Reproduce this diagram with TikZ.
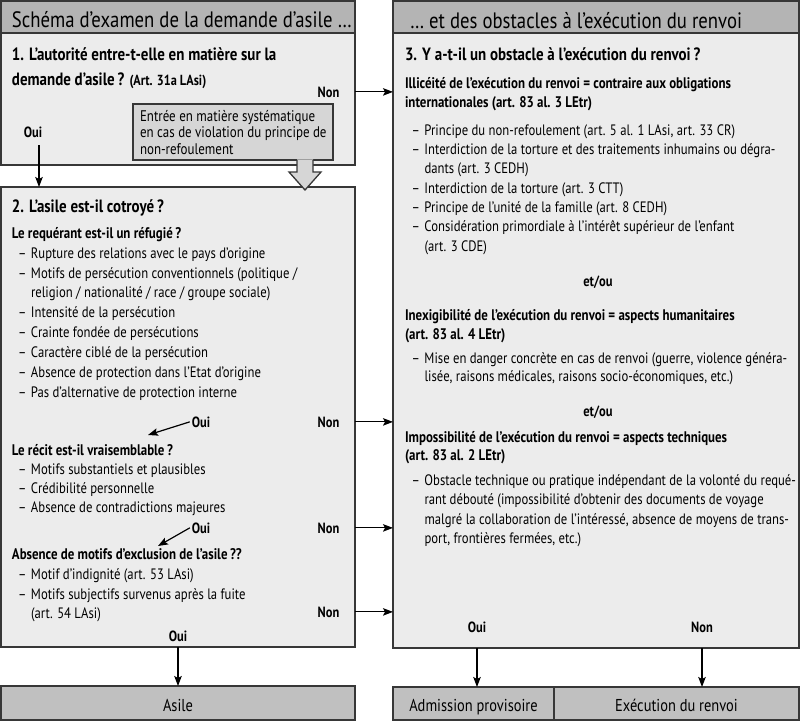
\documentclass[tikz,border=0pt]{standalone}
\usepackage{fontspec}
\setmainfont{PT Sans}[FakeStretch=0.84]
\usetikzlibrary{arrows.meta}
\definecolor{edge}{RGB}{55,55,55}
\definecolor{hdrgray}{RGB}{180,180,180}
\definecolor{boxgray}{RGB}{236,236,236}
\definecolor{callgray}{RGB}{214,214,214}
\definecolor{botgray}{RGB}{192,192,192}
\newcommand\Ln[5]{\node[#4] (#1) at (#2,#3) {#5};}
\newcommand\ItL[4]{\node[body] (#1) at (#2,#3) {\makebox[13pt][l]{–}#4};}
\tikzset{
  panel/.style={draw=edge, line width=1.3pt, anchor=north west, inner sep=0pt, outer sep=0pt},
  txt/.style={anchor=base west, inner sep=0pt, outer sep=0pt, text=black},
  body/.style={txt, font=\fontsize{15.1}{16}\selectfont},
  callt/.style={txt, font=\fontsize{15.4}{16}\selectfont},
  bh/.style={txt, font=\bfseries\fontsize{15.35}{18}\selectfont},
  hone/.style={txt, font=\bfseries\fontsize{17.8}{20}\selectfont},
  hdr/.style={txt, font=\fontsize{22.3}{24}\selectfont},
  yn/.style={anchor=base, inner sep=0pt, outer sep=0pt, font=\bfseries\fontsize{14.8}{17}\selectfont},
  etou/.style={anchor=base, inner sep=0pt, outer sep=0pt, font=\bfseries\fontsize{14.9}{17}\selectfont},
  botl/.style={anchor=base, inner sep=0pt, outer sep=0pt, font=\fontsize{17.2}{19}\selectfont},
  arr/.style={draw=black, line width=1.2pt, -{Stealth[length=10pt,width=7.5pt,inset=2pt]}},
}
\begin{document}
\begin{tikzpicture}[x=1pt,y=-1pt]
\useasboundingbox (0,0) rectangle (800,721);
% ---------- boxes ----------
\node[panel, fill=hdrgray, minimum width=354pt, minimum height=32pt] (lh) at (1,1) {};
\node[panel, fill=boxgray, minimum width=354pt, minimum height=132pt] (lb1) at (1,33) {};
\node[panel, fill=boxgray, minimum width=354pt, minimum height=460pt] (lb2) at (1,187) {};
\node[panel, fill=botgray, minimum width=354pt, minimum height=34pt] (asile) at (1,686) {};
\node[panel, fill=hdrgray, minimum width=406pt, minimum height=32pt] (rh) at (393,1) {};
\node[panel, fill=boxgray, minimum width=406pt, minimum height=615pt] (rb) at (393,33) {};
\node[panel, fill=botgray, minimum width=161pt, minimum height=33pt] (adm) at (393,687) {};
\node[panel, fill=botgray, minimum width=245pt, minimum height=33pt] (exe) at (554,687) {};
% callout
\node[panel, fill=callgray, minimum width=200pt, minimum height=56pt] (call) at (133,104) {};
\fill[callgray] (297,159.4) -- (297,172) -- (289,172) -- (305,190) -- (321,172) -- (313,172) -- (313,159.4) -- cycle;
\draw[edge, line width=1.3pt, line join=miter] (297,160) -- (297,172) -- (289,172) -- (305,190) -- (321,172) -- (313,172) -- (313,160);
% ---------- left texts ----------
\Ln{tlh}{12}{27}{hdr}{Schéma d’examen de la demande d’asile …}
\Ln{q1a}{12}{60}{hone}{1. L’autorité entre-t-elle en matière sur la}
\Ln{q1b}{12}{85}{hone}{demande d’asile\,? {\fontsize{14.6}{16}\selectfont(Art. 31a LAsi)}}
\Ln{non1}{328.5}{97}{yn}{Non}
\Ln{oui1}{33}{137}{yn}{Oui}
\Ln{c1}{140}{121}{callt}{Entrée en matière systématique}
\Ln{c2}{140}{137.5}{callt}{en cas de violation du principe de}
\Ln{c3}{140}{154}{callt}{non-refoulement}
\Ln{q2}{12}{212}{hone}{2. L’asile est-il cotroyé\,?}
\Ln{q2a}{12}{238}{bh}{Le requérant est-il un réfugié\,?}
\ItL{a1}{18}{258}{Rupture des relations avec le pays d’origine}
\ItL{a2}{18}{278}{Motifs de persécution conventionnels (politique /}
\Ln{a2b}{31}{297.5}{body}{religion / nationalité / race / groupe sociale)}
\ItL{a3}{18}{317}{Intensité de la persécution}
\ItL{a4}{18}{337}{Crainte fondée de persécutions}
\ItL{a5}{18}{357}{Caractère ciblé de la persécution}
\ItL{a6}{18}{377}{Absence de protection dans l’Etat d’origine}
\ItL{a7}{18}{397}{Pas d’alternative de protection interne}
\Ln{oui2}{201}{427}{yn}{Oui}
\Ln{non2}{328.5}{427}{yn}{Non}
\Ln{q2b}{12}{455}{bh}{Le récit est-il vraisemblable\,?}
\ItL{b1}{18}{474}{Motifs substantiels et plausibles}
\ItL{b2}{18}{493}{Crédibilité personnelle}
\ItL{b3}{18}{512}{Absence de contradictions majeures}
\Ln{oui3}{201}{533}{yn}{Oui}
\Ln{non3}{328.5}{533}{yn}{Non}
\Ln{q2c}{12}{559}{bh}{Absence de motifs d’exclusion de l’asile\,??}
\ItL{d1}{18}{579}{Motif d’indignité (art. 53 LAsi)}
\ItL{d2}{18}{599}{Motifs subjectifs survenus après la fuite}
\Ln{d2b}{31}{618}{body}{(art. 54 LAsi)}
\Ln{non4}{328.5}{617}{yn}{Non}
\Ln{oui4}{178}{641}{yn}{Oui}
\node[botl] (tas) at (178,711) {Asile};
% ---------- right texts ----------
\Ln{trh}{410}{28}{hdr}{… et des obstacles à l’exécution du renvoi}
\Ln{q3}{405}{60}{hone}{3. Y a-t-il un obstacle à l’exécution du renvoi\,?}
\Ln{i1}{405}{88}{bh}{Illicéité de l’exécution du renvoi = contraire aux obligations}
\Ln{i2}{405}{107}{bh}{internationales (art. 83 al. 3 LEtr)}
\ItL{e1}{411.5}{135}{Principe du non-refoulement (art. 5 al. 1 LAsi, art. 33 CR)}
\ItL{e2}{411.5}{154.5}{Interdiction de la torture et des traitements inhumains ou dégra-}
\Ln{e2b}{424.5}{173.5}{body}{dants (art. 3 CEDH)}
\ItL{e3}{411.5}{193}{Interdiction de la torture (art. 3 CTT)}
\ItL{e4}{411.5}{212}{Principe de l’unité de la famille (art. 8 CEDH)}
\ItL{e5}{411.5}{231.5}{Considération primordiale à l’intérêt supérieur de l’enfant}
\Ln{e5b}{424.5}{251}{body}{(art. 3 CDE)}
\node[etou] (eo1) at (598,286) {et/ou};
\Ln{j1}{405}{320}{bh}{Inexigibilité de l’exécution du renvoi = aspects humanitaires}
\Ln{j2}{405}{339}{bh}{(art. 83 al. 4 LEtr)}
\ItL{f1}{411.5}{363}{Mise en danger concrète en cas de renvoi (guerre, violence généra-}
\Ln{f1b}{424.5}{381.5}{body}{lisée, raisons médicales, raisons socio-économiques, etc.)}
\node[etou] (eo2) at (598,416) {et/ou};
\Ln{k1}{405}{442}{bh}{Impossibilité de l’exécution du renvoi = aspects techniques}
\Ln{k2}{405}{460}{bh}{(art. 83 al. 2 LEtr)}
\ItL{g1}{411.5}{485}{Obstacle technique ou pratique indépendant de la volonté du requé-}
\Ln{g1b}{424.5}{504.5}{body}{rant débouté (impossibilité d’obtenir des documents de voyage}
\Ln{g1c}{424.5}{524}{body}{malgré la collaboration de l’intéressé, absence de moyens de trans-}
\Ln{g1d}{424.5}{543}{body}{port, frontières fermées, etc.)}
\Ln{ouiR}{477}{632}{yn}{Oui}
\Ln{nonR}{702}{632}{yn}{Non}
\node[botl] (tadm) at (473.5,711) {Admission provisoire};
\node[botl] (texe) at (676.5,711) {Exécution du renvoi};
% ---------- connectors ----------
\coordinate (s0) at (39,145);
\coordinate (t2) at (148,435);
\coordinate (t3) at (158,546);
\draw[arr] (lb1.east |- non1) -- (rb.west |- non1);
\draw[arr] (lb2.east |- non2) -- (rb.west |- non2);
\draw[arr] (lb2.east |- non3) -- (rb.west |- non3);
\draw[arr] (lb2.east |- non4) -- (rb.west |- non4);
\draw[arr] (s0) -- (lb2.north -| s0);
\draw[arr] ([xshift=-2pt]oui2.west) -- (t2);
\draw[arr] ([xshift=-2pt]oui3.west) -- (t3);
\draw[arr] (lb2.south -| oui4) -- (asile.north -| oui4);
\draw[arr] (rb.south -| ouiR) -- (adm.north -| ouiR);
\draw[arr] (rb.south -| nonR) -- (exe.north -| nonR);
\end{tikzpicture}
\end{document}
